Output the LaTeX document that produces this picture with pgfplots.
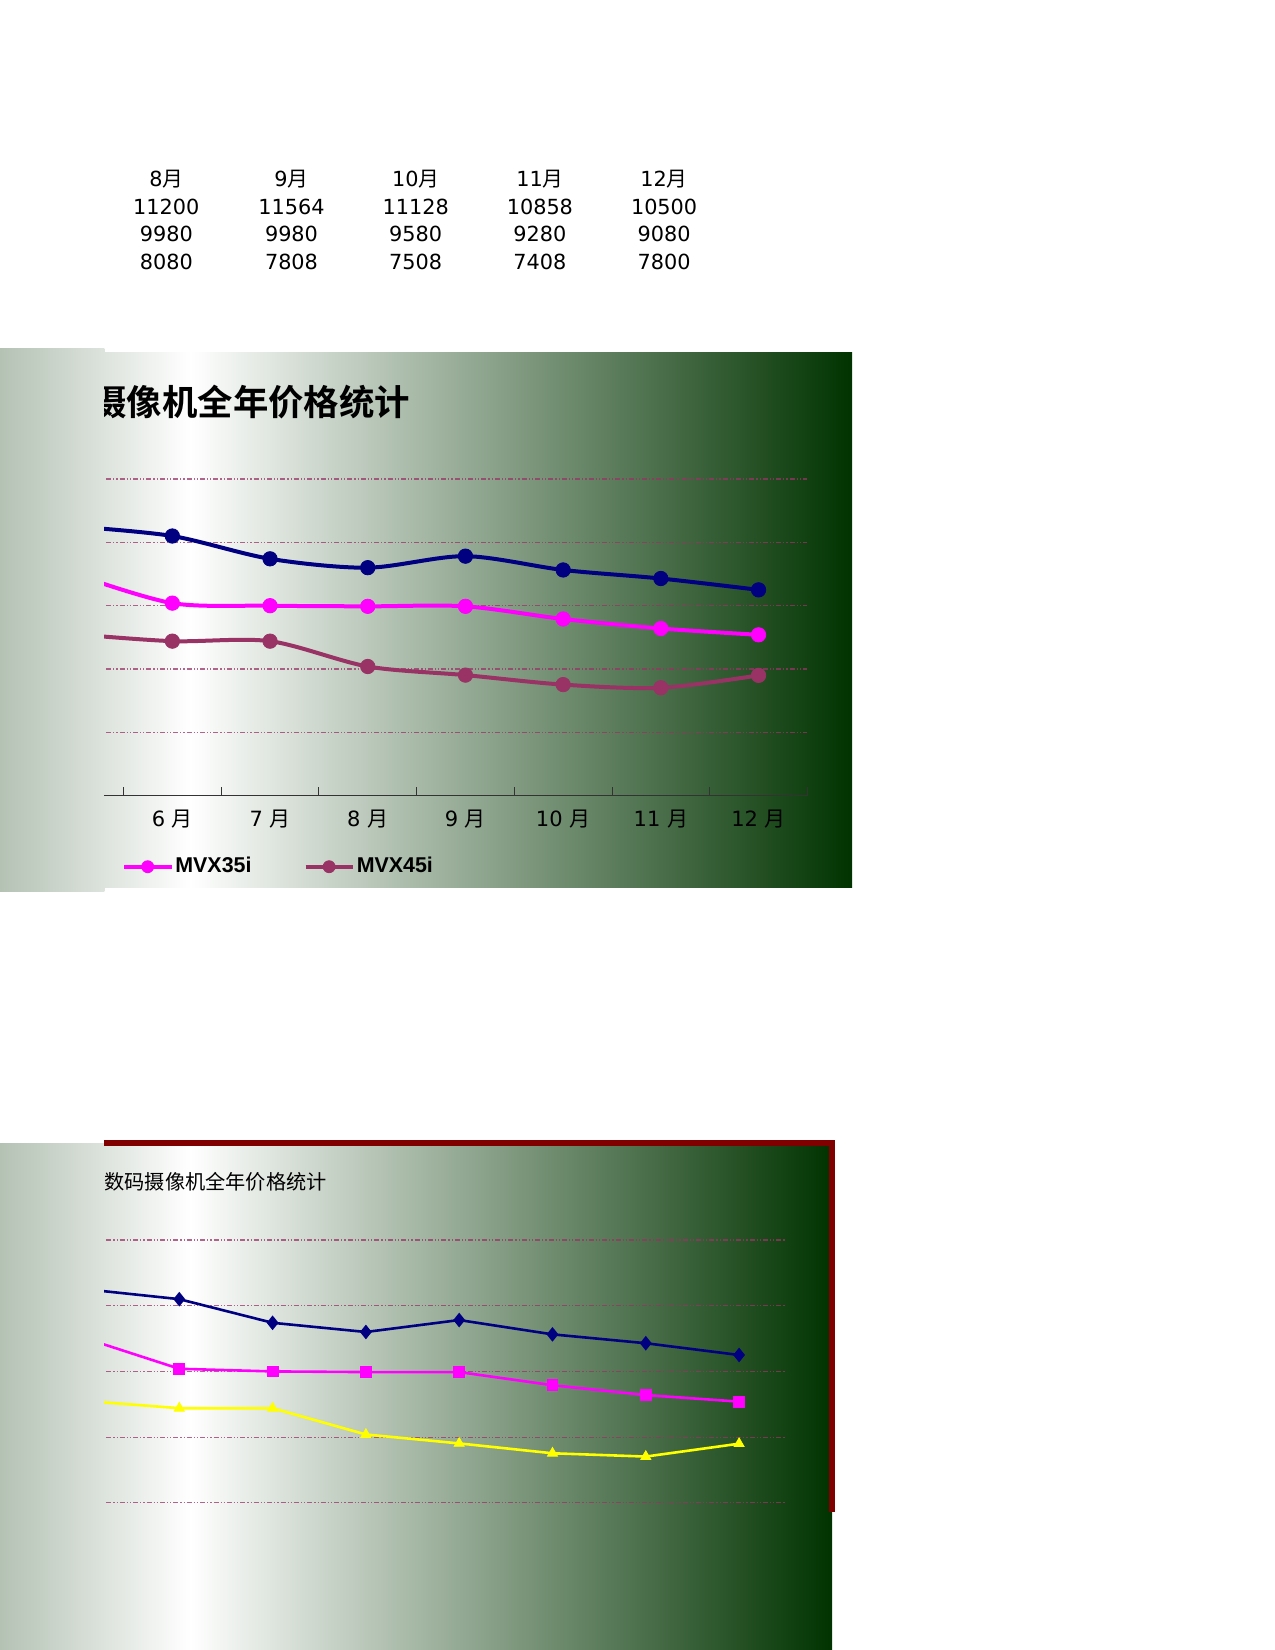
\documentclass[border=0pt]{standalone}
\usepackage{fontspec}
\setmainfont{DejaVu Sans}
\newfontfamily\legendfont{Liberation Sans}
\newfontfamily\cjk{Noto Sans CJK SC}
\newfontfamily\cjkbold{Noto Sans CJK SC Bold}
\usepackage{pgfplots}
\usepackage{pgfplotstable}
\pgfplotsset{compat=1.18}

\definecolor{bgleft}{RGB}{180,194,180}
\definecolor{bgmid}{RGB}{221,227,221}
\definecolor{bgdark}{RGB}{0,51,0}
\definecolor{gridplum}{RGB}{153,51,102}
\definecolor{xlnavy}{RGB}{0,0,128}
\definecolor{xlmagenta}{RGB}{255,0,255}
\definecolor{xlplum}{RGB}{153,51,102}
\definecolor{xlyellow}{RGB}{255,255,0}
\definecolor{xlborder}{RGB}{128,0,0}

% monthly prices, months 5..12 (month 5 sits behind the frozen pane)
\pgfplotstableread{
m  navy  pink  plum
5  12500 11000 9100
6  12200 10080 8880
7  11480 10000 8880
8  11200 9980  8080
9  11564 9980  7808
10 11128 9580  7508
11 10858 9280  7408
12 10500 9080  7800
}\prices

\pgfplotsset{
  xlchart/.style={
    scale only axis, anchor=south west,
    xmin=4.5, xmax=12.5, ymin=4000, ymax=14000,
    axis x line*=bottom, axis y line*=left,
    x axis line style={black!80, line width=0.7pt, -},
    y axis line style={draw=none},
    ytick={6000,8000,10000,12000,14000}, yticklabels={},
    ytick style={draw=none},
    ymajorgrids,
    grid style={gridplum, opacity=0.75, line width=0.6pt,
      dash pattern=on 2.5pt off 1pt on 0.6pt off 1pt on 0.6pt off 1pt},
    xtick={6,...,12},
    major x tick style={draw=none},
    minor xtick={4.5,5.5,6.5,7.5,8.5,9.5,10.5,11.5,12.5},
    minor x tick style={black!80, line width=0.5pt},
    minor tick length=4.2pt,
    tick align=inside,
  },
  smoothline/.style={line width=2pt, smooth, mark=*, mark size=3.6pt,
    mark options={solid, line width=0.4pt}},
  thinline/.style={line width=1.3pt, mark options={solid, line width=0.4pt}},
}

\begin{document}
\begin{tikzpicture}
\path[use as bounding box] (0,0) rectangle (637.5pt,-825pt);
\fill[white] (0,0) rectangle (637.5pt,-825pt);

% cells of the sheet above the charts
\begin{scope}[every node/.style={anchor=base, inner sep=0pt, font=\fontsize{10.4}{12}\selectfont}]
\foreach \x/\a/\b/\c/\d in {83.15/8/11200/9980/8080, 145.75/9/11564/9980/7808,
    207.85/10/11128/9580/7508, 269.95/11/10858/9280/7408, 332.05/12/10500/9080/7800} {
  \node at (\x pt,-93.3pt) {\a{\cjk 月}};
  \node at (\x pt,-107.1pt) {\b};
  \node at (\x pt,-120.9pt) {\c};
  \node at (\x pt,-134.8pt) {\d};
}
\end{scope}

% ---------------- chart 1 (smoothed) ----------------
\shade[left color=bgleft, right color=bgmid] (0pt,-174.2pt) rectangle (52.2pt,-445.75pt);
\shade[left color=bgmid, right color=white] (52pt,-176pt) rectangle (95.3pt,-443.65pt);
\shade[left color=white, right color=bgdark] (95pt,-176pt) rectangle (426pt,-443.65pt);

\begin{scope}
\clip (52pt,-176pt) rectangle (426pt,-443.65pt);
\node[anchor=east, inner sep=0pt, font=\cjkbold\fontsize{17.7}{20}\selectfont]
  at (205.25pt,-201pt) {数码摄像机全年价格统计};
\begin{axis}[xlchart,
    at={(12.9pt,-397.85pt)}, width=390.8pt, height=158.35pt,
    xticklabels={6 {\cjk 月},7 {\cjk 月},8 {\cjk 月},9 {\cjk 月},10 {\cjk 月},11 {\cjk 月},12 {\cjk 月}},
    xticklabel style={font=\fontsize{10.5}{12}\selectfont, yshift=-3.8pt},
    legend style={at={(0.1227,-0.2242)}, anchor=west, draw=none, fill=none,
      inner sep=0pt, nodes={inner sep=0pt},
      font=\legendfont\bfseries\fontsize{10.7}{12}\selectfont,
      /tikz/every odd column/.append style={column sep=1pt},
      /tikz/every even column/.append style={column sep=26pt}},
    legend columns=-1,
    legend image code/.code={\draw[mark repeat=2, mark phase=2, mark size=3pt]
      plot coordinates {(0pt,0pt)(11.8pt,0pt)(23.65pt,0pt)};},
  ]
  \addplot[xlnavy, smoothline, forget plot] table[x=m, y=navy] {\prices};
  \addplot[xlmagenta, smoothline] table[x=m, y=pink] {\prices};
  \addlegendentry{MVX35i}
  \addplot[xlplum, smoothline] table[x=m, y=plum] {\prices};
  \addlegendentry{MVX45i}
\end{axis}
\end{scope}

% ---------------- chart 2 (straight lines) ----------------
\shade[left color=bgleft, right color=bgmid] (0pt,-571.5pt) rectangle (52.2pt,-825pt);
\shade[left color=bgmid, right color=white] (52pt,-570pt) rectangle (95.3pt,-825pt);
\shade[left color=white, right color=bgdark] (95pt,-570pt) rectangle (416pt,-825pt);
\fill[xlborder] (52pt,-570pt) rectangle (417.3pt,-573pt);
\fill[xlborder] (414.5pt,-570pt) rectangle (417.3pt,-756.2pt);

\begin{scope}
\clip (52pt,-573pt) rectangle (414.5pt,-756.2pt);
\node[anchor=west, inner sep=0pt, font=\cjk\fontsize{10.1}{12}\selectfont]
  at (52pt,-591pt) {数码摄像机全年价格统计};
\begin{axis}[xlchart,
    at={(19.67pt,-784.25pt)}, width=373.2pt, height=164.25pt,
    xticklabels={},
  ]
  \addplot[xlnavy, thinline, mark=diamond*, mark size=2.65pt,
    mark options={xscale=1.07}] table[x=m, y=navy] {\prices};
  \addplot[xlmagenta, thinline, mark=square*, mark size=2.7pt] table[x=m, y=pink] {\prices};
  \addplot[xlyellow, thinline, mark=triangle*, mark size=2.9pt] table[x=m, y=plum] {\prices};
\end{axis}
\end{scope}
\end{tikzpicture}
\end{document}
